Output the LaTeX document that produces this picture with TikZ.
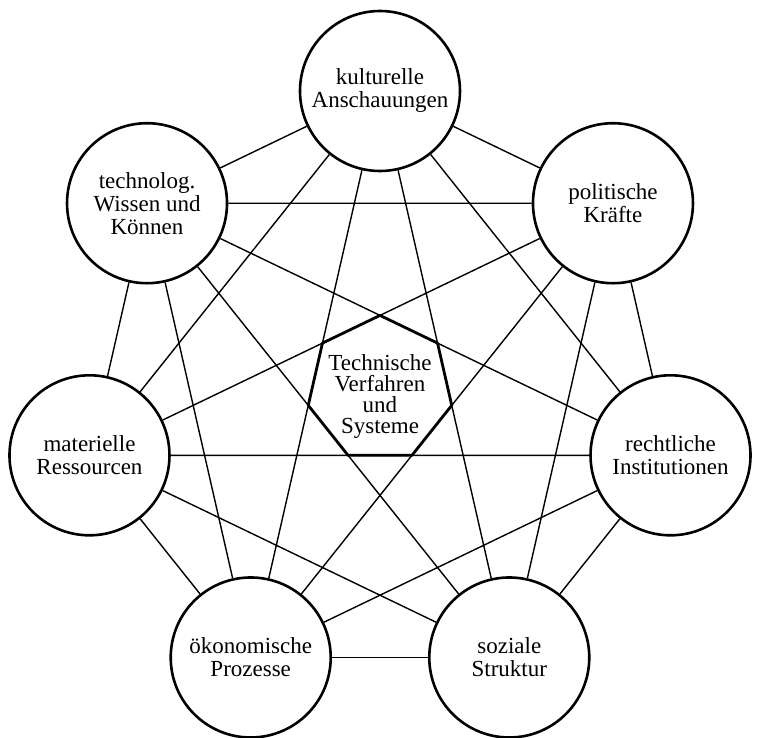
\documentclass[tikz,border=0pt]{standalone}
\usepackage{fontspec}
\setmainfont{Liberation Serif}
\usetikzlibrary{shapes.geometric}

\begin{document}
\begin{tikzpicture}[x=1pt,y=1pt,
  factor/.style={circle,draw=drawColor,fill=fillColor,line width=2.6pt,minimum size=160pt,inner sep=0pt,align=center,font=\fontsize{23}{23}\selectfont},
  link/.style={draw=drawColor,line width=1.4pt,line join=round},
  core/.style={regular polygon,regular polygon sides=7,draw=drawColor,line width=2.8pt,line join=round,minimum size=147.2pt,inner sep=0pt,outer sep=0pt},
  coreText/.style={align=center,inner sep=0pt,font=\fontsize{23}{21}\selectfont}]
\definecolor{fillColor}{RGB}{255,255,255}
\definecolor{drawColor}{RGB}{0,0,0}
\path[use as bounding box,fill=fillColor] (-380,-348) rectangle (378,389);

% the seven factors on a heptagon
\foreach \name/\txt [count=\i from 0] in {
  kultur/{kulturelle\\Anschauungen},
  politik/{politische\\Kräfte},
  recht/{rechtliche\\Institutionen},
  sozial/{soziale\\Struktur},
  oekonomie/{ökonomische\\Prozesse},
  material/{materielle\\Ressourcen},
  technik/{technolog.\\Wissen und\\Können}}
  \node[factor] (\name) at ({90-\i*360/7}:298) {\txt};

% every factor with every other
\foreach \a/\b in {kultur/politik, kultur/recht, kultur/sozial, kultur/oekonomie, kultur/material, kultur/technik,
  politik/recht, politik/sozial, politik/oekonomie, politik/material, politik/technik,
  recht/sozial, recht/oekonomie, recht/material, recht/technik,
  sozial/oekonomie, sozial/material, sozial/technik,
  oekonomie/material, oekonomie/technik,
  material/technik}
  \draw[link] (\a) -- (\b);

% centre
\node[core] (system) at (0,0) {};
\node[coreText] (systemText) at (0,-7) {Technische\\Verfahren\\und\\Systeme};
\end{tikzpicture}
\end{document}
